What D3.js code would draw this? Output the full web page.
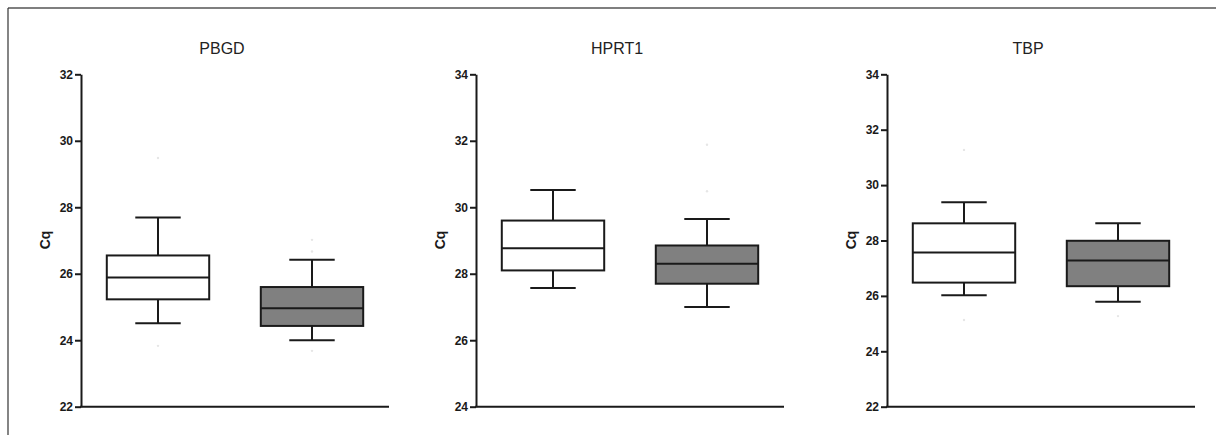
<!DOCTYPE html>
<html>
<head>
<meta charset="utf-8">
<script src="https://cdn.jsdelivr.net/npm/d3@7"></script>
<style>
  html, body { margin: 0; padding: 0; background: #fff; }
  svg { display: block; }
</style>
</head>
<body>
<svg id="chart" width="1216" height="435"></svg>
<script>
// ---- Data ----
const genes = ["PBGD", "HPRT1", "TBP"];
const groups = ["Group 1", "Group 2"];
const groupFills = ["#ffffff", "#808080"];
const yDomains = [[22, 32], [24, 34], [22, 34]];
const yTickValues = [
  [22, 24, 26, 28, 30, 32],
  [24, 26, 28, 30, 32, 34],
  [22, 24, 26, 28, 30, 32, 34]
];
// [min, q1, median, q3, max] per gene, per group
const pbgdStats  = [[24.51, 25.23, 25.89, 26.55, 27.69], [24.00, 24.43, 24.96, 25.60, 26.42]];
const hprt1Stats = [[27.57, 28.10, 28.77, 29.60, 30.52], [27.00, 27.70, 28.30, 28.85, 29.65]];
const tbpStats   = [[26.02, 26.48, 27.57, 28.62, 29.38], [25.79, 26.35, 27.28, 27.99, 28.62]];
const stats = [pbgdStats, hprt1Stats, tbpStats];
// faint points visible outside whiskers
const pbgdPoints  = [[29.48, 23.83], [27.02, 26.67, 23.68]];
const hprt1Points = [[], [31.88, 30.48]];
const tbpPoints   = [[31.27, 25.13], [25.27]];
const points = [pbgdPoints, hprt1Points, tbpPoints];
const yLabel = "Cq";

// ---- Layout ----
const svg = d3.select("#chart");
const axisLeft = [81, 476, 887];
const plotW = 308;
const yTop = 74.3, yBottom = 406.7;
const ink = "#1a1a1a";

// frame
svg.append("line").attr("x1", 8).attr("x2", 1216).attr("y1", 8).attr("y2", 8)
  .attr("stroke", "#555").attr("stroke-width", 1.5);
svg.append("line").attr("x1", 8).attr("x2", 8).attr("y1", 8).attr("y2", 435)
  .attr("stroke", "#333").attr("stroke-width", 1.2);

genes.forEach((gene, gi) => {
  const g = svg.append("g").attr("transform", `translate(${axisLeft[gi]},0)`);
  const y = d3.scaleLinear().domain(yDomains[gi]).range([yBottom, yTop]);
  const x = d3.scalePoint().domain(groups).range([0, plotW]).padding(0.5);
  const step = x.step();
  const boxW = step * 0.665;
  const capW = step * 0.295;

  // title
  g.append("text").attr("x", 141).attr("y", 54)
    .attr("text-anchor", "middle")
    .attr("font-family", "Liberation Sans, Arial, sans-serif")
    .attr("font-size", 16).attr("fill", "#222")
    .text(gene);

  // y axis
  const ax = g.append("g").call(d3.axisLeft(y).tickValues(yTickValues[gi]).tickSize(6).tickPadding(2).tickSizeOuter(0));
  ax.select(".domain").attr("stroke", ink).attr("stroke-width", 2);
  ax.selectAll(".tick line").attr("stroke", ink).attr("stroke-width", 2);
  ax.selectAll(".tick text")
    .attr("font-family", "Liberation Sans, Arial, sans-serif")
    .attr("font-size", 12).attr("font-weight", "bold").attr("fill", ink);

  // x axis line (no ticks)
  g.append("line").attr("x1", -1).attr("x2", plotW).attr("y1", y(yDomains[gi][0])).attr("y2", y(yDomains[gi][0]))
    .attr("stroke", ink).attr("stroke-width", 2);

  // y label
  g.append("text")
    .attr("transform", `translate(${-35},${240}) rotate(-90)`)
    .attr("text-anchor", "middle")
    .attr("dominant-baseline", "middle")
    .attr("font-family", "Liberation Sans, Arial, sans-serif")
    .attr("font-size", 14).attr("font-weight", "bold").attr("fill", ink)
    .text(yLabel);

  groups.forEach((grp, k) => {
    const s = stats[gi][k];
    const cx = x(grp);
    // faint points
    points[gi][k].forEach(v => {
      g.append("circle").attr("cx", cx).attr("cy", y(v)).attr("r", 1.2).attr("fill", "#e6e6e6");
    });
    // whiskers
    g.append("line").attr("x1", cx).attr("x2", cx).attr("y1", y(s[0])).attr("y2", y(s[1]))
      .attr("stroke", ink).attr("stroke-width", 2);
    g.append("line").attr("x1", cx).attr("x2", cx).attr("y1", y(s[3])).attr("y2", y(s[4]))
      .attr("stroke", ink).attr("stroke-width", 2);
    g.append("line").attr("x1", cx - capW / 2).attr("x2", cx + capW / 2).attr("y1", y(s[0])).attr("y2", y(s[0]))
      .attr("stroke", ink).attr("stroke-width", 2);
    g.append("line").attr("x1", cx - capW / 2).attr("x2", cx + capW / 2).attr("y1", y(s[4])).attr("y2", y(s[4]))
      .attr("stroke", ink).attr("stroke-width", 2);
    // box
    g.append("rect").attr("x", cx - boxW / 2).attr("width", boxW)
      .attr("y", y(s[3])).attr("height", y(s[1]) - y(s[3]))
      .attr("fill", groupFills[k]).attr("stroke", ink).attr("stroke-width", 2);
    // median
    g.append("line").attr("x1", cx - boxW / 2).attr("x2", cx + boxW / 2).attr("y1", y(s[2])).attr("y2", y(s[2]))
      .attr("stroke", ink).attr("stroke-width", 2);
  });
});
</script>
</body>
</html>
